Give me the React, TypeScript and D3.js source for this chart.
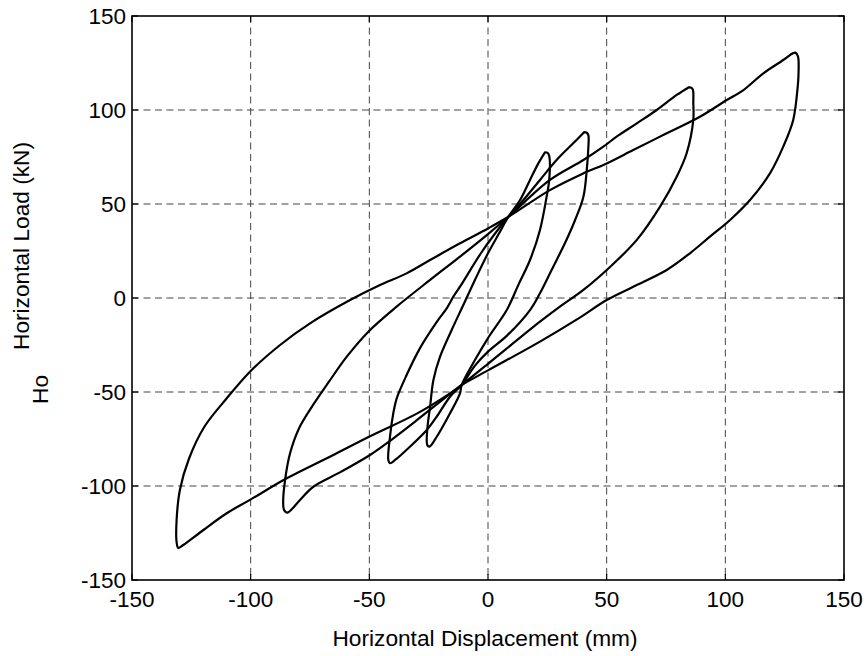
import React from "react";
import * as d3 from "d3";

// Axis ticks
const xTicks = [-150, -100, -50, 0, 50, 100, 150];
const yTicks = [-150, -100, -50, 0, 50, 100, 150];

// Hysteresis loops: [displacement mm, load kN]
const cycle1: [number, number][] = [
  [24, 77.5], [25, 77.3], [25.8, 75.5], [25.8, 62.8], [24.7, 53.9], [21.9, 36.2], [17.7, 20.2],
  [12.8, 7], [7.9, -6.4], [0, -21.3], [-5.5, -33], [-11.1, -46.3], [-11.8, -50.7], [-16, -61.3],
  [-21.6, -73.8], [-24.7, -79.1], [-25.6, -78.2], [-25.6, -70.2], [-24.4, -57.8], [-23, -43.6],
  [-20.2, -31.2], [-15.3, -17], [-10.5, -4], [-5.5, 9.6], [0, 23.8], [4.5, 34], [8.6, 43.2],
  [13.5, 52.1], [17.7, 62.8], [21.2, 71.6], [24, 77.5],
];
const cycle2: [number, number][] = [
  [40.5, 88.2], [41.6, 87.9], [42.3, 86.5], [42.3, 80.5], [41.6, 68], [40.2, 53.9], [36.7, 41.5],
  [32.4, 29.1], [26.8, 14.9], [21.9, 2.5], [17.7, -6.4], [8, -20], [0, -28.5], [-5.5, -36],
  [-11.1, -46.3], [-16, -52.5], [-21.6, -63.1], [-25.8, -70.2], [-32.9, -79.1], [-39, -86],
  [-41.3, -87.9], [-42, -86.2], [-41.3, -73.8], [-39.9, -61.3], [-38.5, -53.5], [-34.3, -41],
  [-28.7, -26.8], [-21, -11.7], [-17.4, -5.5], [-14.6, 0.7], [-11.8, 6], [-3, 23.8], [2.5, 33.5],
  [8.6, 43.2], [14.9, 52.1], [21.9, 62.8], [28.9, 73.4], [35.9, 82.3], [40.5, 88.2],
];
const cycle3: [number, number][] = [
  [84.5, 112], [85.8, 111.8], [86.4, 110.5], [86.5, 104], [86.5, 94.7], [83.7, 77], [79.5, 64.5],
  [72.5, 48.6], [62.7, 30.9], [51.4, 16.5], [40.2, 4.3], [30.3, -4.6], [21.9, -12.6], [0, -35],
  [-11.1, -46.3], [-16, -51], [-30, -65], [-42.7, -77.3], [-49.7, -83.5], [-62, -92.5],
  [-73.6, -100.4], [-79.2, -107.4], [-84.6, -114.2], [-86, -112.5], [-86.3, -108], [-85.5, -96.8],
  [-83.4, -82.6], [-79.5, -69], [-73.5, -56.5], [-67, -44.5], [-59.5, -31.2], [-50.4, -17.9],
  [-38.5, -4.6], [-24.4, 9.6], [-11.8, 22], [0, 34], [8.6, 43.2], [26.1, 62.8], [40.2, 73.4],
  [48.6, 80.5], [54.2, 85.8], [62.7, 92.9], [71.1, 100], [79.5, 108], [84.5, 112],
];
const cycle4: [number, number][] = [
  [127.5, 129.5], [129.5, 130.5], [130.6, 128.5], [130.8, 118], [130.5, 112.4], [128.6, 94.7],
  [124.4, 80.5], [118.8, 66.3], [110.4, 52.1], [102, 41.5], [93.5, 32.6], [85.1, 23.8],
  [75.3, 14.9], [61.2, 6], [50, -1.1], [38, -11], [21.9, -23.2], [0, -38.5], [-11.1, -46.3],
  [-16, -50.7], [-30, -61.5], [-49.7, -73.5], [-66, -84], [-84.8, -95.9], [-100.3, -107.4],
  [-110.1, -114.5], [-119.9, -123.4], [-128.4, -131.4], [-130.5, -133], [-131.2, -130],
  [-131.2, -118], [-129.8, -102], [-126, -85.5], [-119.5, -68.5], [-110.5, -54],
  [-100.3, -39.2], [-87.6, -25], [-75, -13.5], [-58.1, -1.1], [-45.5, 6.9],
  [-34.3, 13.1], [-24.4, 20.2], [-11.8, 29.1], [0, 37], [8.6, 43.2], [26.1, 57.4], [40.2, 66.3],
  [50, 71.6], [61.2, 78.7], [75.3, 87.6], [89.3, 96.4], [100.6, 105.3], [107, 110],
  [116, 119.5], [124.4, 126.6], [127.5, 129.5],
];
const loops = [cycle1, cycle2, cycle3, cycle4];

const W = 868;
const H = 656;
const FONT = "'Liberation Sans', Arial, Helvetica, sans-serif";

export default function App() {
  const x = d3.scaleLinear().domain([-150, 150]).range([132, 844]);
  const y = d3.scaleLinear().domain([-150, 150]).range([580, 16]);
  const line = d3
    .line<[number, number]>()
    .x((d) => x(d[0]))
    .y((d) => y(d[1]))
    .curve(d3.curveCatmullRom.alpha(0.5));

  const [x0, x1] = x.range();
  const [y0, y1] = [y(-150), y(150)];
  const tickLen = 6;

  return (
    <svg
      width={W}
      height={H}
      style={{ position: "absolute", left: 0, top: 0, background: "#fff" }}
      fontFamily={FONT}
    >
      <rect x={0} y={0} width={W} height={H} fill="#fff" />
      {/* grid */}
      <g stroke="#444" strokeWidth={1} strokeDasharray="7,4.5">
        {xTicks.slice(1, -1).map((t) => (
          <line key={"gx" + t} x1={x(t)} x2={x(t)} y1={y1} y2={y0} />
        ))}
        {yTicks.slice(1, -1).map((t) => (
          <line key={"gy" + t} x1={x0} x2={x1} y1={y(t)} y2={y(t)} />
        ))}
      </g>
      {/* curves */}
      <g fill="none" stroke="#000" strokeWidth={2.2} strokeLinejoin="round" strokeLinecap="round">
        {loops.map((c, i) => (
          <path key={i} d={line(c) || ""} />
        ))}
      </g>
      {/* ticks */}
      <g stroke="#000" strokeWidth={1.2}>
        {xTicks.map((t) => (
          <g key={"tx" + t}>
            <line x1={x(t)} x2={x(t)} y1={y0} y2={y0 - tickLen} />
            <line x1={x(t)} x2={x(t)} y1={y1} y2={y1 + tickLen} />
          </g>
        ))}
        {yTicks.map((t) => (
          <g key={"ty" + t}>
            <line x1={x0} x2={x0 + tickLen} y1={y(t)} y2={y(t)} />
            <line x1={x1} x2={x1 - tickLen} y1={y(t)} y2={y(t)} />
          </g>
        ))}
      </g>
      {/* box */}
      <rect x={x0} y={y1} width={x1 - x0} height={y0 - y1} fill="none" stroke="#000" strokeWidth={1.6} />
      {/* tick labels */}
      <g fontSize={22.5} fill="#000">
        {xTicks.map((t) => (
          <text key={"lx" + t} x={x(t)} y={607} textAnchor="middle">
            {t}
          </text>
        ))}
        {yTicks.map((t) => (
          <text key={"ly" + t} x={126} y={y(t) + 8} textAnchor="end">
            {t}
          </text>
        ))}
      </g>
      {/* axis labels */}
      <text x={485} y={646} fontSize={22.7} textAnchor="middle" fill="#000">
        Horizontal Displacement (mm)
      </text>
      <text x={29} y={350} fontSize={22.7} textAnchor="start" fill="#000" transform="rotate(-90 29 350)">
        Horizontal Load (kN)
      </text>
      <text x={48} y={404} fontSize={22.7} textAnchor="start" fill="#000" transform="rotate(-90 48 404)">
        Ho
      </text>
    </svg>
  );
}
